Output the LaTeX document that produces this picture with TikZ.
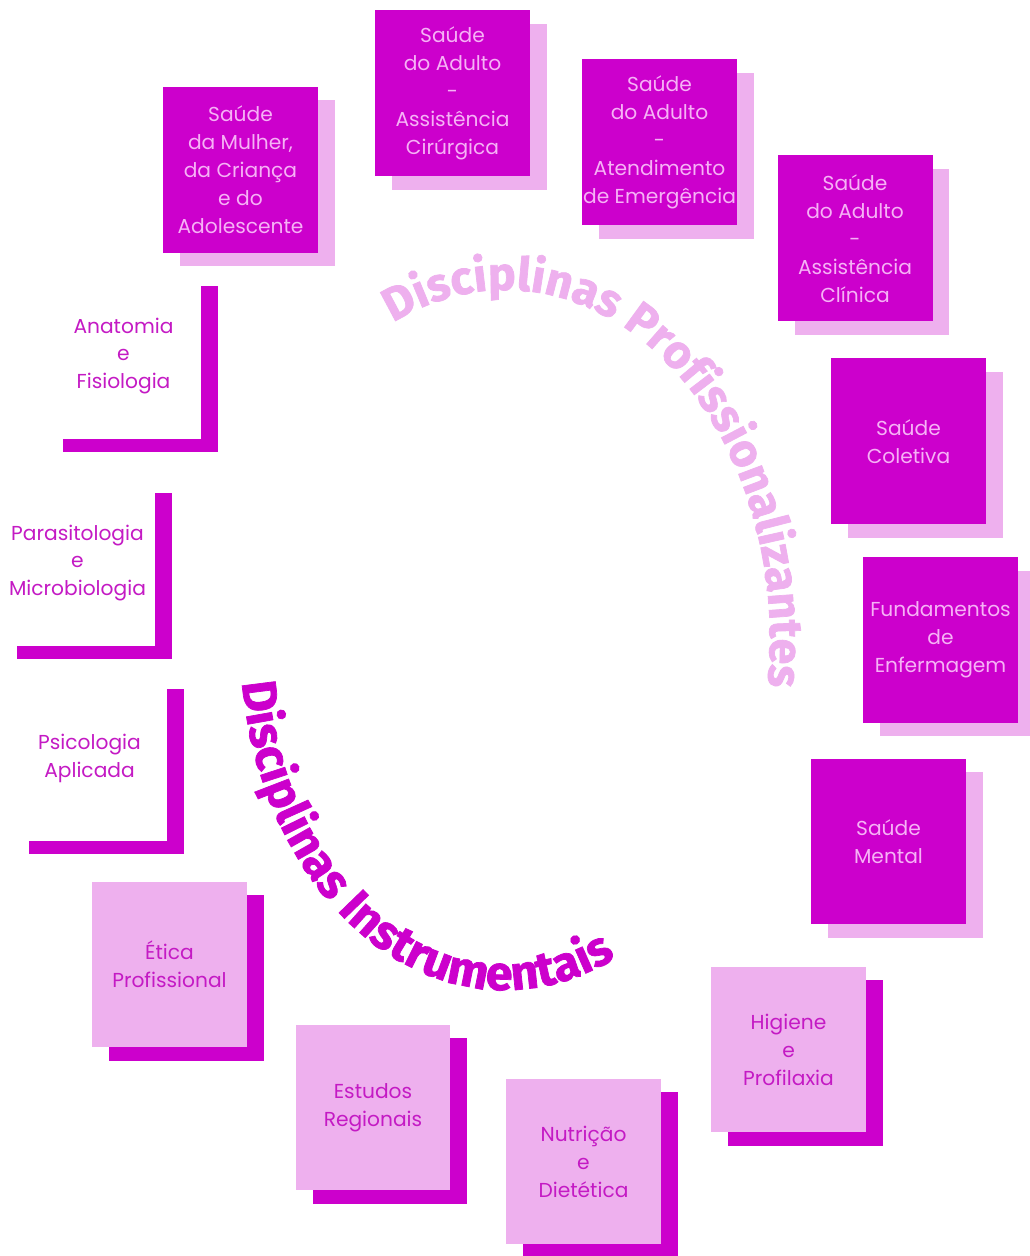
\documentclass[tikz,border=0pt]{standalone}
\usepackage{fontspec}
\usepackage{tikz}
\usetikzlibrary{shadows, decorations.text, calc}
\newfontfamily\boxfont{Poppins}
\newfontfamily\arcfont{Fira Sans}[BoldFeatures={FakeBold=1.5}]
\definecolor{magA}{HTML}{CC00CC}
\definecolor{pinkA}{HTML}{EEB0EE}
\definecolor{pinkT}{HTML}{F6B2F6}
\definecolor{magT}{HTML}{C41AC4}
\tikzset{
  card/.style={minimum width=3.1cm, minimum height=3.32cm, inner sep=0pt,
    align=center, font={\boxfont\fontsize{11.5}{15.9}\selectfont}},
  darkcard/.style={card, fill=magA, text=pinkT,
    drop shadow={shadow xshift=0.34cm, shadow yshift=-0.27cm, fill=pinkA, opacity=1}},
  lightcard/.style={card, fill=pinkA, text=magT,
    drop shadow={shadow xshift=0.34cm, shadow yshift=-0.27cm, fill=magA, opacity=1}},
  barcard/.style={card, fill=white, text=magT,
    drop shadow={shadow xshift=0.34cm, shadow yshift=-0.27cm, fill=magA, opacity=1}},
}
\begin{document}
\begin{tikzpicture}[x=0.02cm, y=0.02cm]
  \fill[white] (0,0) rectangle (1029,1256);
  \useasboundingbox (0,0) rectangle (1029,1256);
  \coordinate (ctr) at (505,616);
  % professional subjects
  \node[darkcard] (mulher) at (240.5,1086) {Saúde\\da Mulher,\\da Criança\\e do\\Adolescente};
  \node[darkcard] (cirurgica) at (452.5,1162.5) {Saúde\\do Adulto\\-\\Assistência\\Cirúrgica};
  \node[darkcard] (emergencia) at (659.5,1113.5) {Saúde\\do Adulto\\-\\Atendimento\\de Emergência};
  \node[darkcard] (clinica) at (855,1017.5) {Saúde\\do Adulto\\-\\Assistência\\Clínica};
  \node[darkcard] (coletiva) at (908.5,814.5) {Saúde\\Coletiva};
  \node[darkcard] (fundamentos) at (940.5,616) {Fundamentos\\de\\Enfermagem};
  \node[darkcard] (mental) at (888.5,414.5) {Saúde\\Mental};
  % instrumental subjects
  \node[lightcard] (higiene) at (788.5,206.5) {Higiene\\e\\Profilaxia};
  \node[lightcard] (nutricao) at (583.5,94.5) {Nutrição\\e\\Dietética};
  \node[lightcard] (estudos) at (373,148.5) {Estudos\\Regionais};
  \node[lightcard] (etica) at (169.5,291.5) {Ética\\Profissional};
  \node[barcard] (psicologia) at (89.5,498) {Psicologia\\Aplicada};
  \node[barcard] (parasitologia) at (77.5,693) {Parasitologia\\e\\Microbiologia};
  \node[barcard] (anatomia) at (123.5,900) {Anatomia\\e\\Fisiologia};
  % curved titles
  \path[decorate, decoration={text along path, text align=left,
      text={|\arcfont\bfseries\fontsize{26.5}{26.5}\selectfont\color{pinkA}|Disciplinas Profissionalizantes}}]
    ($(ctr)+(115:265 and 350)$) arc[start angle=115, end angle=-30, x radius=265, y radius=350];
  \path[decorate, decoration={text along path, text align=left,
      text={|\arcfont\bfseries\fontsize{27.5}{27.5}\selectfont\color{magA}|Disciplinas Instrumentais}}]
    ($(ctr)+(187:265 and 350)$) arc[start angle=187, end angle=320, x radius=265, y radius=350];
\end{tikzpicture}
\end{document}
